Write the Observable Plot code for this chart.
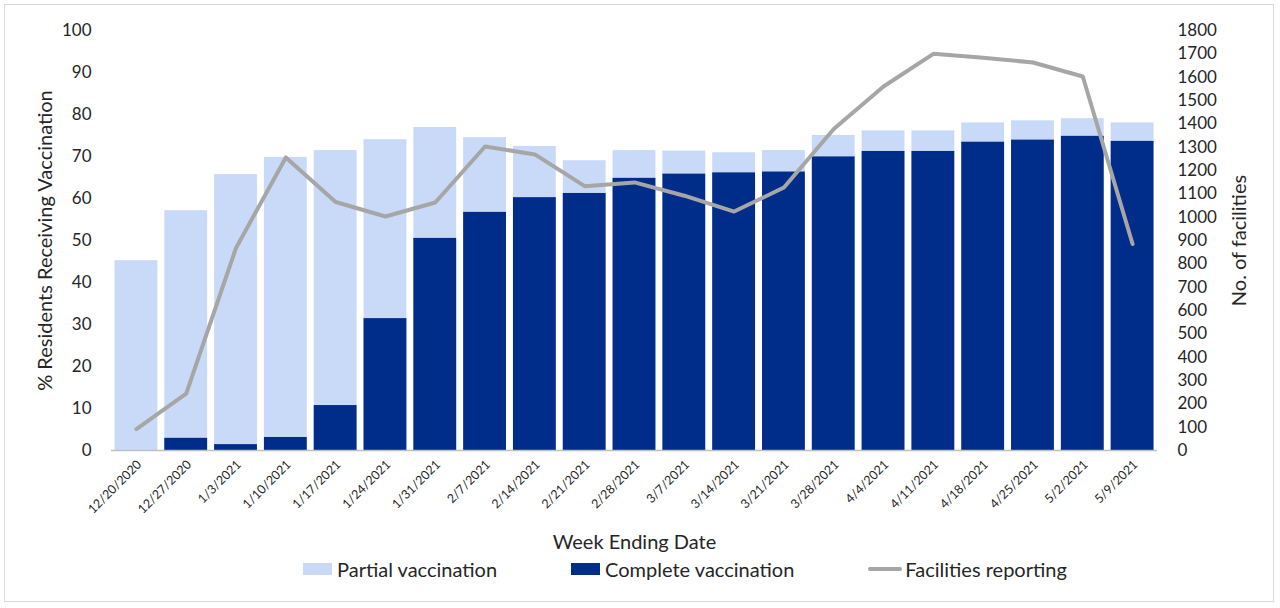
<!DOCTYPE html>
<html>
<head>
<meta charset="utf-8">
<script src="https://cdn.jsdelivr.net/npm/d3@7"></script>
<script src="https://cdn.jsdelivr.net/npm/@observablehq/plot@0.6"></script>
<style>
  body { margin: 0; background: #fff; font-family: Lato, "Open Sans", sans-serif; }
  #wrap { position: relative; width: 1280px; height: 608px; overflow: hidden; }
  #frame { position: absolute; left: 4px; top: 4px; width: 1270px; height: 598px; border: 1px solid #D9D9D9; box-sizing: border-box; pointer-events: none; }
  #chart { position: absolute; left: 0; top: 0; }
  #legend { position: absolute; left: 0; top: 556px; height: 26px; width: 1280px; display: flex; justify-content: flex-start; align-items: center; gap: 74px; font-size: 20px; color: #262626; padding-left: 303px; box-sizing: border-box; }
  .item { display: flex; align-items: center; white-space: nowrap; }
  .sw { width: 29px; height: 12px; margin-right: 5px; }
  .ln { width: 34px; height: 4px; margin-right: 3px; background: #A6A6A6; border-radius: 2px; }
</style>
</head>
<body>
<div id="wrap">
  <div id="chart"></div>
  <div id="legend"></div>
  <div id="frame"></div>
</div>
<script>
const weeks = ["12/20/2020","12/27/2020","1/3/2021","1/10/2021","1/17/2021","1/24/2021","1/31/2021","2/7/2021","2/14/2021","2/21/2021","2/28/2021","3/7/2021","3/14/2021","3/21/2021","3/28/2021","4/4/2021","4/11/2021","4/18/2021","4/25/2021","5/2/2021","5/9/2021"];
// % residents with at least partial vaccination (total bar height)
const partial = [45.2, 57.1, 65.7, 69.8, 71.4, 74.0, 76.9, 74.5, 72.4, 69.0, 71.4, 71.3, 70.9, 71.4, 75.0, 76.1, 76.1, 78.0, 78.5, 79.0, 78.0];
// % residents with complete vaccination
const complete = [0, 2.9, 1.4, 3.1, 10.7, 31.4, 50.5, 56.7, 60.2, 61.2, 64.8, 65.8, 66.1, 66.3, 69.9, 71.2, 71.2, 73.4, 73.9, 74.8, 73.6];
// number of facilities reporting
const facilities = [92, 244, 868, 1256, 1065, 1003, 1063, 1303, 1269, 1133, 1149, 1092, 1024, 1127, 1378, 1560, 1700, 1683, 1663, 1603, 885];

const leftTicks = d3.range(0, 101, 10);
const rightTicks = d3.range(0, 1801, 100);
const PCT_MAX = 100, FAC_MAX = 1800;
const toPct = v => v * PCT_MAX / FAC_MAX;

const colPartial = "#C9DAF8", colComplete = "#002D8A", colLine = "#A6A6A6";

const data = weeks.map((w, i) => ({week: w, partial: partial[i], complete: complete[i], facilities: facilities[i]}));

const chart = Plot.plot({
  width: 1280,
  height: 556,
  marginLeft: 111,
  marginRight: 123,
  marginTop: 30,
  marginBottom: 106,
  style: {fontFamily: "Lato, 'Open Sans', sans-serif", color: "#262626", background: "transparent"},
  x: {domain: weeks, paddingInner: 0.14, paddingOuter: 0.07, round: false},
  y: {domain: [0, PCT_MAX]},
  marks: [
    Plot.barY(data, {x: "week", y: "partial", fill: colPartial}),
    Plot.barY(data, {x: "week", y: "complete", fill: colComplete}),
    Plot.ruleY([0], {stroke: "#BFBFBF", strokeWidth: 1.5}),
    Plot.line(data, {x: "week", y: d => toPct(d.facilities), stroke: colLine, strokeWidth: 4}),
    Plot.axisY({ticks: leftTicks, tickSize: 0, tickPadding: 20, fontSize: 17,
      label: "% Residents Receiving Vaccination", labelAnchor: "center", labelArrow: "none", labelOffset: 74}),
    Plot.axisY({anchor: "right", ticks: rightTicks.map(toPct), tickFormat: v => String(Math.round(v * FAC_MAX / PCT_MAX)),
      tickSize: 0, tickPadding: 20, fontSize: 17,
      label: "No. of facilities", labelAnchor: "center", labelArrow: "none", labelOffset: 88}),
    Plot.axisX({tickRotate: -45, tickSize: 0, tickPadding: 12, fontSize: 12.5, dx: 3,
      label: "Week Ending Date", labelAnchor: "center", labelArrow: "none", labelOffset: 98})
  ]
});
document.getElementById("chart").appendChild(chart);

// axis label font sizes
chart.querySelectorAll("[aria-label$='axis label'] text").forEach(t => t.setAttribute("font-size", "20"));

const legend = document.getElementById("legend");
legend.innerHTML = `
  <div class="item"><div class="sw" style="background:${colPartial}"></div>Partial vaccination</div>
  <div class="item"><div class="sw" style="background:${colComplete}"></div>Complete vaccination</div>
  <div class="item"><div class="ln"></div>Facilities reporting</div>`;
</script>
</body>
</html>
